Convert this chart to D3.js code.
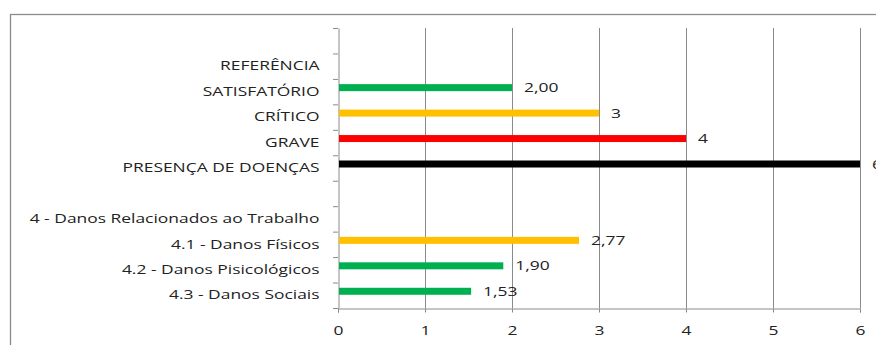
<!DOCTYPE html>
<html><head><meta charset="utf-8">
<script src="https://cdn.jsdelivr.net/npm/d3@7"></script>
<style>body{margin:0;background:#fff}svg{display:block}text{font-family:"Open Sans",sans-serif}</style>
</head><body>
<script>
const categories = ["", "REFERÊNCIA", "SATISFATÓRIO", "CRÍTICO", "GRAVE", "PRESENÇA DE DOENÇAS", " ",
  "4 - Danos Relacionados ao Trabalho", "4.1 - Danos Físicos", "4.2 - Danos Pisicológicos", "4.3 - Danos Sociais"];
const values = [null, null, 2.00, 3, 4, 6, null, null, 2.77, 1.90, 1.53];
const valueLabels = [null, null, "2,00", "3", "4", "6", null, null, "2,77", "1,90", "1,53"];
const barColors = [null, null, "#00B050", "#FFC000", "#FF0000", "#000000", null, null, "#FFC000", "#00B050", "#00B050"];
const xTicks = [0, 1, 2, 3, 4, 5, 6];

(function () {
const W = 876, H = 345, sx = 1.34;
const svg = d3.select("body").append("svg").attr("width", W).attr("height", H);
svg.append("rect").attr("x", 10.5).attr("y", 14.5).attr("width", W).attr("height", H)
  .attr("fill", "none").attr("stroke", "#8c8c8c").attr("stroke-width", 1.3);

const pL = 338, pR = 860, pT = 28, pB = 308;
const x = d3.scaleLinear().domain([0, 6]).range([pL, pR]);
const y = d3.scaleBand().domain(d3.range(categories.length)).range([pT, pB]);

svg.append("g").selectAll("line").data(xTicks.filter(d => d > 0)).join("line")
  .attr("x1", d => x(d) + 0.5).attr("x2", d => x(d) + 0.5)
  .attr("y1", pT).attr("y2", pB).attr("stroke", "#8a8a8a").attr("stroke-width", 1);

const xa = svg.append("g").attr("transform", `translate(0,${pB + 0.5})`)
  .call(d3.axisBottom(x).tickValues(xTicks).tickSize(4).tickPadding(13).tickFormat(d3.format("d")));
xa.select(".domain").attr("stroke", "#8a8a8a");
xa.selectAll(".tick line").attr("stroke", "#8a8a8a");
xa.selectAll("text").attr("font-size", 13).attr("fill", "#222").attr("font-family", "Open Sans")
  .attr("transform", `scale(${sx},1)`);

const pad = 19;
const ya = svg.append("g").attr("transform", `translate(${pL + 0.5},0)`)
  .call(d3.axisLeft(y).tickSize(0).tickPadding(pad).tickFormat(i => categories[i]));
ya.select(".domain").attr("stroke", "#8a8a8a");
ya.selectAll(".tick line").remove();
ya.selectAll("text").attr("font-size", 13).attr("fill", "#222").attr("font-family", "Open Sans")
  .attr("x", -pad / sx).attr("transform", `scale(${sx},1)`);
svg.append("g").selectAll("line").data(d3.range(categories.length + 1)).join("line")
  .attr("x1", pL - 5).attr("x2", pL)
  .attr("y1", i => (i < categories.length ? y(i) : pB) + 0.5)
  .attr("y2", i => (i < categories.length ? y(i) : pB) + 0.5)
  .attr("stroke", "#8a8a8a");

const idx = d3.range(categories.length).filter(i => values[i] != null);
const bh = 7, off = -4;
svg.append("g").selectAll("rect").data(idx).join("rect")
  .attr("x", x(0) + 1).attr("y", i => y(i) + y.bandwidth() / 2 + off - bh / 2)
  .attr("width", i => x(values[i]) - x(0) - 1).attr("height", bh)
  .attr("fill", i => barColors[i]);

svg.append("g").attr("transform", `scale(${sx},1)`).selectAll("text").data(idx).join("text")
  .attr("x", i => (x(values[i]) + 12) / sx).attr("y", i => y(i) + y.bandwidth() / 2 + off)
  .attr("dy", "0.35em").attr("font-size", 13).attr("fill", "#222")
  .text(i => valueLabels[i]);
})();
</script>
</body></html>
